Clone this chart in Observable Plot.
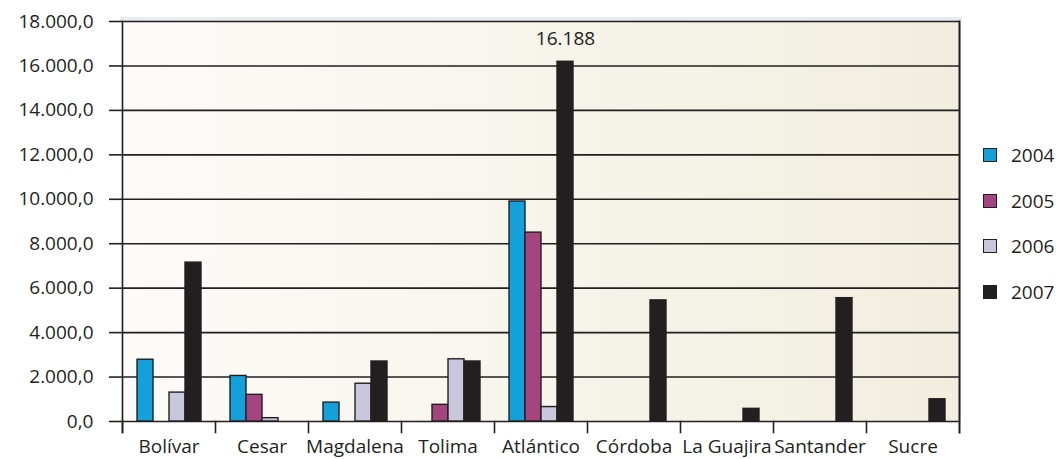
<!DOCTYPE html>
<html>
<head>
<meta charset="utf-8">
<script src="https://cdn.jsdelivr.net/npm/d3@7"></script>
<script src="https://cdn.jsdelivr.net/npm/@observablehq/plot@0.6"></script>
<style>
  body { margin: 0; background: #ffffff; font-family: "Open Sans", sans-serif; }
  #wrap { position: relative; width: 1060px; height: 459px; overflow: hidden; }
  #wrap svg { position: absolute; left: 0; top: 0; }
  .legend { position: absolute; left: 983px; top: 148px; }
  .item { display: flex; align-items: center; height: 14px; margin-bottom: 31.5px; font-size: 19px; color: #231f20; }
  .sw { box-sizing: border-box; width: 14px; height: 14px; border: 1.6px solid #231f20; margin-right: 14px; }
</style>
</head>
<body>
<div id="wrap"></div>
<script>
// ---- data ----
const categories = ["Bolívar", "Cesar", "Magdalena", "Tolima", "Atlántico", "Córdoba", "La Guajira", "Santander", "Sucre"];
const years = ["2004", "2005", "2006", "2007"];
const colors = ["#14a0db", "#a4457f", "#c9c7dc", "#231f20"];
const v2004 = [2780, 2050, 850, null, 9900, null, null, null, null];
const v2005 = [null, 1200, null, 750, 8500, null, null, null, null];
const v2006 = [1300, 150, 1700, 2800, 650, null, null, null, null];
const v2007 = [7150, null, 2700, 2700, 16188, 5450, 570, 5550, 1000];
const yTicks = [0, 2000, 4000, 6000, 8000, 10000, 12000, 14000, 16000, 18000];
const annotCategory = "Atlántico";
const annotYear = "2007";

// ---- build table ----
const series = [v2004, v2005, v2006, v2007];
const data = [];
categories.forEach((c, i) => {
  years.forEach((y, j) => {
    const v = series[j][i];
    if (v != null) data.push({category: c, year: y, value: v});
  });
});
const annot = data.filter(d => d.category === annotCategory && d.year === annotYear);

const loc = d3.formatLocale({decimal: ",", thousands: ".", grouping: [3], currency: ["", ""]});
const fmtAxis = loc.format(",.1f");
const fmtInt = loc.format(",d");

const ink = "#231f20";
const H = 459, MT = 21, MB = 38;
const innerH = H - MT - MB;

const plot = Plot.plot({
  width: 1060,
  height: H,
  marginLeft: 120,
  marginRight: 99,
  marginTop: MT,
  marginBottom: MB,
  style: {fontFamily: '"Open Sans", sans-serif', fontSize: "19px", color: ink, background: "transparent", overflow: "visible"},
  fx: {domain: categories, padding: 0, label: null},
  x: {domain: years, paddingInner: 0, paddingOuter: 0.8, axis: null},
  y: {domain: [0, 18000], label: null},
  color: {domain: years, range: colors},
  marks: [
    Plot.gridY(yTicks, {stroke: ink, strokeOpacity: 1, strokeWidth: 1.6}),
    Plot.barY(data, {fx: "category", x: "year", y: "value", fill: "year", stroke: ink, strokeWidth: 1.4, insetLeft: 0, insetRight: 0}),
    Plot.frame({anchor: "left", insetTop: innerH, insetBottom: -11, stroke: ink, strokeWidth: 1.6}),
    Plot.frame({anchor: "left", facetAnchor: "left", insetBottom: -11, stroke: ink, strokeWidth: 1.6}),
    Plot.frame({anchor: "right", facetAnchor: "right", insetBottom: -11, stroke: ink, strokeWidth: 2}),
    Plot.axisY(yTicks, {tickSize: 13, tickPadding: 16, tickFormat: fmtAxis, label: null, fontSize: 19, stroke: ink, strokeWidth: 1.6}),
    Plot.axisFx({anchor: "bottom", tickSize: 0, tickPadding: 18, label: null, fontSize: 19}),
    Plot.text(annot, {fx: "category", x: "year", y: "value", text: d => fmtInt(d.value), dy: -17, lineAnchor: "bottom", fontSize: 19, fill: ink})
  ]
});

// background gradient behind the plot area, positioned from the scales
const yr = plot.scale("y").range;
const fxr = plot.scale("fx").range;
const ns = "http://www.w3.org/2000/svg";
const x0 = Math.min(...fxr), x1 = Math.max(...fxr);
const y0 = Math.min(...yr), y1 = Math.max(...yr);
const defs = document.createElementNS(ns, "defs");
defs.innerHTML = '<linearGradient id="bgGrad" x1="0" y1="0" x2="1" y2="0">' +
  '<stop offset="0" stop-color="#fcfbf8"/><stop offset="1" stop-color="#f1eedf"/></linearGradient>';
const strip = document.createElementNS(ns, "rect");
strip.setAttribute("x", x0); strip.setAttribute("y", y0 - 4);
strip.setAttribute("width", x1 - x0 + 1); strip.setAttribute("height", 4);
strip.setAttribute("fill", "#e6edf1");
const bg = document.createElementNS(ns, "rect");
bg.setAttribute("x", x0); bg.setAttribute("y", y0);
bg.setAttribute("width", x1 - x0); bg.setAttribute("height", y1 - y0);
bg.setAttribute("fill", "url(#bgGrad)");
plot.insertBefore(defs, plot.firstChild.nextSibling);
plot.insertBefore(strip, defs.nextSibling);
plot.insertBefore(bg, strip.nextSibling);

const wrap = document.getElementById("wrap");
wrap.appendChild(plot);

// legend
const lg = document.createElement("div");
lg.className = "legend";
years.forEach((y, j) => {
  const it = document.createElement("div");
  it.className = "item";
  const sw = document.createElement("div");
  sw.className = "sw";
  sw.style.background = colors[j];
  const t = document.createElement("span");
  t.textContent = y;
  it.appendChild(sw); it.appendChild(t);
  lg.appendChild(it);
});
wrap.appendChild(lg);
</script>
</body>
</html>
